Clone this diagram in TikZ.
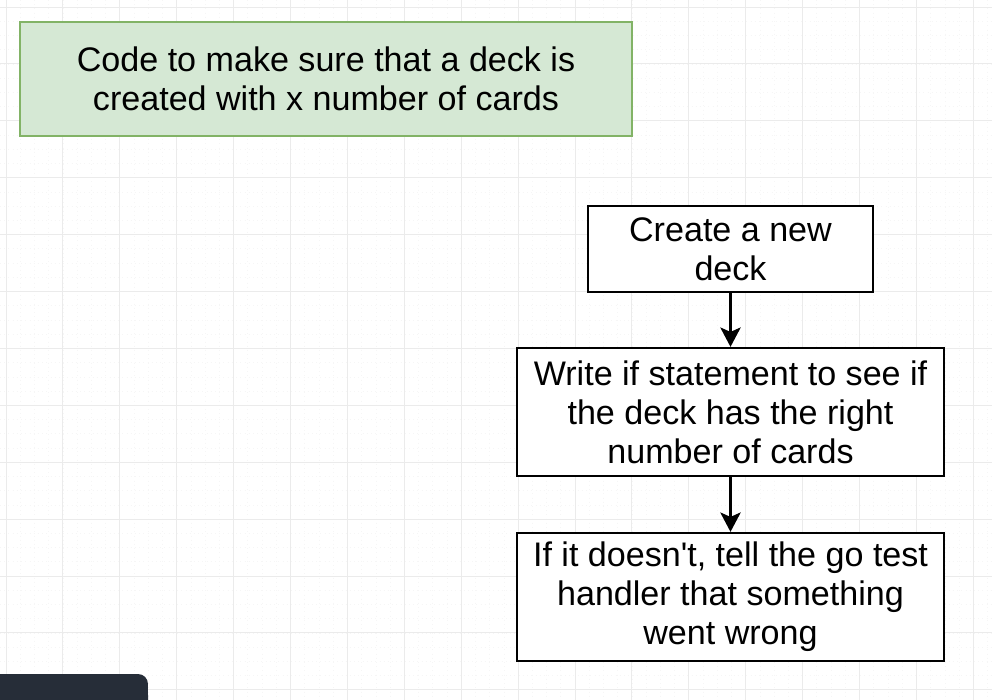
\documentclass[tikz,border=0pt]{standalone}
\usepackage{fontspec}
\setmainfont{Liberation Sans}
\usetikzlibrary{arrows.meta}

\definecolor{notefill}{HTML}{D5E8D4}
\definecolor{noteline}{HTML}{82B366}
\definecolor{panel}{HTML}{262D38}
\definecolor{gridmajor}{HTML}{EBEBEB}
\definecolor{gridminor}{HTML}{F6F6F6}

\begin{document}
\begin{tikzpicture}[x=0.02cm,y=-0.02cm,
    every node/.style={font=\fontsize{19.4}{22.2}\selectfont, align=center, inner sep=0pt},
    stepbox/.style={draw=black, line width=1.3pt, fill=white},
    notebox/.style={draw=noteline, line width=0.9pt, fill=notefill},
    flow/.style={line width=1.7pt, -{Stealth[width=11.5pt,length=11pt,inset=2.5pt]}}]
        \useasboundingbox (0,0) rectangle (992,700);
        \fill[white] (0,0) rectangle (992,700);

        % Grid background
        \foreach \k in {0,...,70} {
          \draw[gridminor, line width=0.4pt, dotted] ({6+14.225*\k},0) -- ({6+14.225*\k},700);
          \draw[gridminor, line width=0.4pt, dotted] (0,{7+14.225*\k}) -- (992,{7+14.225*\k});
        }
        \foreach \k in {0,...,17} {
          \draw[gridmajor, line width=0.5pt] ({6+56.9*\k},0) -- ({6+56.9*\k},700);
          \draw[gridmajor, line width=0.5pt] (0,{7+56.9*\k}) -- (992,{7+56.9*\k});
        }

        % Note
        \node[notebox, minimum width=12.24cm, minimum height=2.28cm] (goal) at (326,79)
          {Code to make sure that a deck is\\created with x number of cards};

        % Steps
        \node[stepbox, minimum width=5.7cm, minimum height=1.72cm] (newdeck) at (730.5,249)
          {Create a new\\deck};
        \node[stepbox, minimum width=8.54cm, minimum height=2.56cm] (check) at (730.5,412)
          {Write if statement to see if\\the deck has the right\\number of cards};
        \node[stepbox, minimum width=8.54cm, minimum height=2.56cm] (report) at (730.5,597)
          {If it doesn\textquotesingle t, tell the go test\\handler that something\\went wrong};

        \draw[flow] (newdeck) -- (check);
        \draw[flow] (check) -- (report);

        % Corner panel
        \fill[panel] (0,700) -- (0,674) -- (138,674)
          arc[start angle=90, end angle=0, radius=0.2cm] -- (148,700) -- cycle;
      \end{tikzpicture}
\end{document}
